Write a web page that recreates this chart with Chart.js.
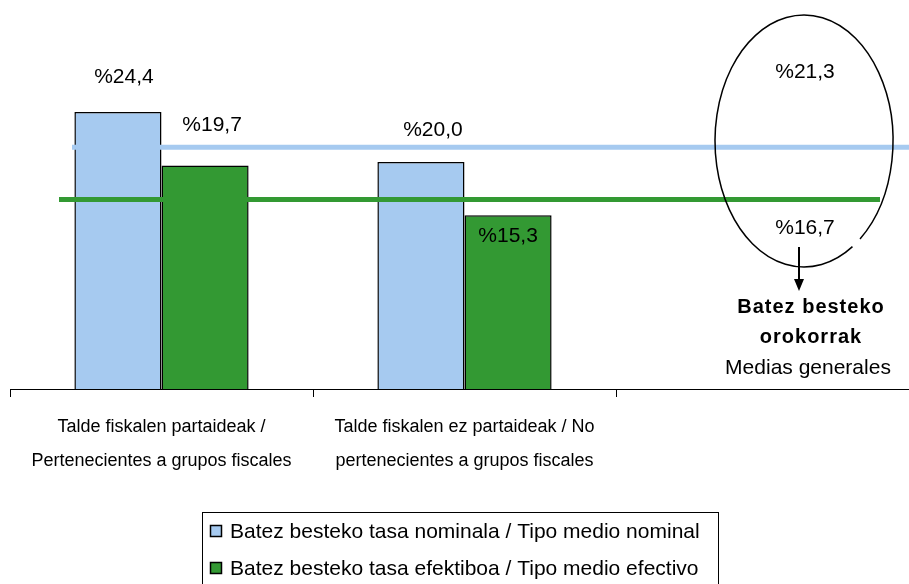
<!DOCTYPE html>
<html><head><meta charset="utf-8">
<script src="https://cdn.jsdelivr.net/npm/chart.js@4/dist/chart.umd.min.js"></script>
<style>html,body{margin:0;padding:0;background:#fff;overflow:hidden}#wrap{position:relative;width:925px;height:584px}</style>
</head><body><div id="wrap"><canvas id="c"></canvas></div>
<script>
const categories = [['Talde fiskalen partaideak /', 'Pertenecientes a grupos fiscales'], ['Talde fiskalen ez partaideak / No', 'pertenecientes a grupos fiscales'], ''];
const seriesNames = ['Batez besteko tasa nominala / Tipo medio nominal', 'Batez besteko tasa efektiboa / Tipo medio efectivo'];
const nominal = [24.4, 20.0, null];
const effective = [19.7, 15.3, null];
const averages = [21.3, 16.7];
const averageTitle = ['Batez besteko', 'orokorrak'];
const averageSubtitle = 'Medias generales';

const BLUE = '#A6CAF0', GREEN = '#339933';
const fmt = v => '%' + v.toFixed(1).replace('.', ',');
const FONT = '"Liberation Sans", Arial, sans-serif';

// label offsets relative to bar top/center (style only)
const labelOffsets = [
  [[6, -35], [12, -32]],
  [[7, -40], [0, 21]]
];

const overlay = {
  id: 'overlay',
  afterDatasetsDraw(chart) {
    const ctx = chart.ctx, y = chart.scales.y;
    ctx.save();
    const lineSpecs = [{c: BLUE, x0: 72, x1: 925}, {c: GREEN, x0: 59, x1: 880}];
    averages.forEach((v, i) => {
      const py = y.getPixelForValue(v);
      ctx.strokeStyle = lineSpecs[i].c; ctx.lineWidth = 5;
      ctx.beginPath(); ctx.moveTo(lineSpecs[i].x0, py); ctx.lineTo(lineSpecs[i].x1, py); ctx.stroke();
    });
    ctx.fillStyle = '#000'; ctx.font = '21px ' + FONT;
    ctx.textAlign = 'center'; ctx.textBaseline = 'middle';
    chart.data.datasets.forEach((ds, di) => {
      const meta = chart.getDatasetMeta(di);
      meta.data.forEach((bar, i) => {
        const v = ds.data[i];
        if (v == null) return;
        const off = labelOffsets[di][i];
        ctx.fillText(fmt(v), bar.x + off[0], bar.y + off[1]);
      });
    });
    ctx.restore();
  },
  afterDraw(chart) {
    const ctx = chart.ctx;
    ctx.save();
    ctx.strokeStyle = '#000'; ctx.lineWidth = 1.5;
    ctx.beginPath();
    ctx.ellipse(804, 141, 89, 126, 0, 57 * Math.PI / 180, (51 + 360) * Math.PI / 180);
    ctx.stroke();
    ctx.fillStyle = '#000'; ctx.textAlign = 'center'; ctx.textBaseline = 'middle';
    ctx.font = '21px ' + FONT;
    ctx.fillText(fmt(averages[0]), 805, 72);
    ctx.fillText(fmt(averages[1]), 805, 228);
    ctx.lineWidth = 2;
    ctx.beginPath(); ctx.moveTo(799, 247); ctx.lineTo(799, 282); ctx.stroke();
    ctx.beginPath(); ctx.moveTo(794, 279); ctx.lineTo(804, 279); ctx.lineTo(799, 291); ctx.closePath(); ctx.fill();
    ctx.font = 'bold 20px ' + FONT;
    ctx.letterSpacing = '1px';
    ctx.fillText(averageTitle[0], 811, 307);
    ctx.fillText(averageTitle[1], 811, 337);
    ctx.letterSpacing = '0px';
    ctx.font = '21px ' + FONT;
    ctx.fillText(averageSubtitle, 808, 368);
    // legend
    ctx.lineWidth = 1; ctx.strokeStyle = '#000';
    ctx.strokeRect(202.5, 512.5, 516, 90);
    const colors = [BLUE, GREEN], ys = [531, 568];
    ctx.textAlign = 'left'; ctx.font = '21px ' + FONT;
    seriesNames.forEach((n, i) => {
      ctx.fillStyle = colors[i];
      ctx.fillRect(210.5, ys[i] - 5.5, 11, 11);
      ctx.lineWidth = 1.5;
      ctx.strokeRect(210.5, ys[i] - 5.5, 11, 11);
      ctx.fillStyle = '#000';
      ctx.fillText(n, 230, ys[i] + 1);
    });
    ctx.restore();
  }
};

new Chart(document.getElementById('c'), {
  type: 'bar',
  data: {
    labels: categories,
    datasets: [
      {label: seriesNames[0], data: nominal, backgroundColor: BLUE, borderColor: '#000', borderWidth: 1.5},
      {label: seriesNames[1], data: effective, backgroundColor: GREEN, borderColor: '#000', borderWidth: 1.5}
    ]
  },
  options: {
    responsive: true, maintainAspectRatio: false, animation: false,
    layout: {padding: {top: 48.5, left: 10, right: 6, bottom: 0}},
    plugins: {legend: {display: false}, tooltip: {enabled: false}},
    datasets: {bar: {categoryPercentage: 0.575, barPercentage: 1}},
    scales: {
      y: {display: false, min: 0, max: 30},
      x: {
        border: {display: true, color: '#000', width: 1},
        grid: {display: true, drawOnChartArea: false, drawTicks: true, tickLength: 8, color: '#000', lineWidth: 1},
        ticks: {color: '#000', font: {family: '"Liberation Sans Narrow", "Liberation Sans", Arial, sans-serif', size: 18, lineHeight: 1.89}, padding: 13, maxRotation: 0, autoSkip: false},
        afterFit(s) { s.height = 195; }
      }
    }
  },
  plugins: [overlay]
});
</script></body></html>
